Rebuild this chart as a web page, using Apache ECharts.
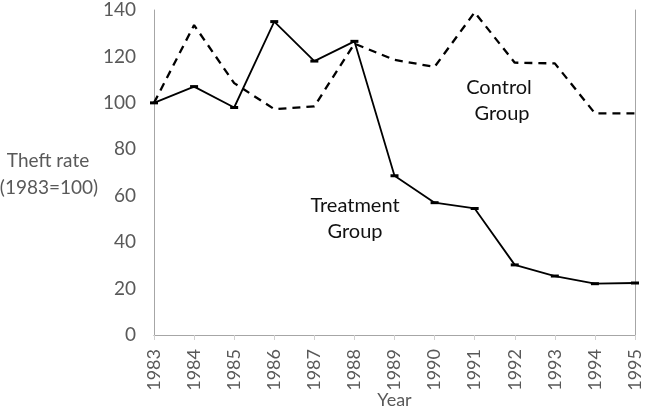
<!DOCTYPE html>
<html>
<head>
<meta charset="utf-8">
<script src="https://cdn.jsdelivr.net/npm/echarts@6/dist/echarts.min.js"></script>
<style>
  html, body { margin: 0; padding: 0; background: #fff; }
  #chart { width: 645px; height: 413px; }
</style>
</head>
<body>
<div id="chart"></div>
<script>
var years = ['1983','1984','1985','1986','1987','1988','1989','1990','1991','1992','1993','1994','1995'];
var treatment = [100, 107, 98, 135, 118, 126.5, 68.6, 57, 54.5, 30.2, 25.4, 22.1, 22.4];
var control = [100, 133.5, 108.5, 97.3, 98.5, 125.5, 118.5, 115.5, 139, 117.3, 117, 95.5, 95.5];
var yTicks = [0, 20, 40, 60, 80, 100, 120, 140];

var font = 'Lato, "Open Sans", sans-serif';
var grey = '#595959';
var chart = echarts.init(document.getElementById('chart'));

// text labels placed by their centre
function label(txt, x, y, size, color) {
  return {
    type: 'text', x: x, y: y,
    style: { text: txt, fill: color, font: size + 'px ' + font, align: 'center', verticalAlign: 'middle' }
  };
}

var option = {
  animation: false,
  grid: { left: 154, right: 10, top: 10, bottom: 78, outerBoundsMode: 'none' },
  xAxis: [{
    type: 'category',
    data: years,
    boundaryGap: false,
    name: 'Year',
    nameLocation: 'middle',
    nameGap: 56,
    nameMoveOverlap: false,
    nameTextStyle: { color: grey, fontSize: 18, fontFamily: font },
    axisLine: { lineStyle: { color: '#d0d0d0', width: 1 } },
    axisTick: { show: true, length: 5, alignWithLabel: true, lineStyle: { color: '#d0d0d0' } },
    axisLabel: { rotate: 90, color: grey, fontSize: 18, fontFamily: font, margin: 14, interval: 0 },
    splitLine: { show: false }
  }, {
    type: 'category',
    data: years,
    boundaryGap: false,
    position: 'top',
    axisLine: { lineStyle: { color: '#a6a6a6', width: 1 } },
    axisTick: { show: false },
    axisLabel: { show: false }
  }],
  yAxis: [{
    type: 'value',
    min: yTicks[0],
    max: yTicks[yTicks.length - 1],
    interval: 20,
    axisLine: { show: true, lineStyle: { color: '#a6a6a6', width: 1 } },
    axisTick: { show: false },
    axisLabel: { color: grey, fontSize: 19, fontFamily: font, margin: 18 },
    splitLine: { show: false }
  }, {
    type: 'value',
    min: 0,
    max: 140,
    interval: 20,
    position: 'right',
    axisLine: { show: true, lineStyle: { color: '#a6a6a6', width: 1 } },
    axisTick: { show: false },
    axisLabel: { show: false },
    splitLine: { show: false }
  }],
  series: [{
    name: 'Control Group',
    type: 'line',
    data: control,
    symbol: 'none',
    lineStyle: { color: '#000', width: 2.3, type: [8, 6] }
  }, {
    name: 'Treatment Group',
    type: 'line',
    data: treatment,
    symbol: 'rect',
    symbolSize: [8, 3],
    itemStyle: { color: '#000' },
    lineStyle: { color: '#000', width: 1.8 }
  }],
  graphic: [
    label('Theft rate', 48, 161, 19, grey),
    label('(1983=100)', 49, 188, 19, grey),
    label('Control', 499, 88, 20, '#111'),
    label('Group', 502, 114, 20, '#111'),
    label('Treatment', 355, 206, 20, '#111'),
    label('Group', 355, 232, 20, '#111')
  ]
};

chart.setOption(option);
</script>
</body>
</html>
